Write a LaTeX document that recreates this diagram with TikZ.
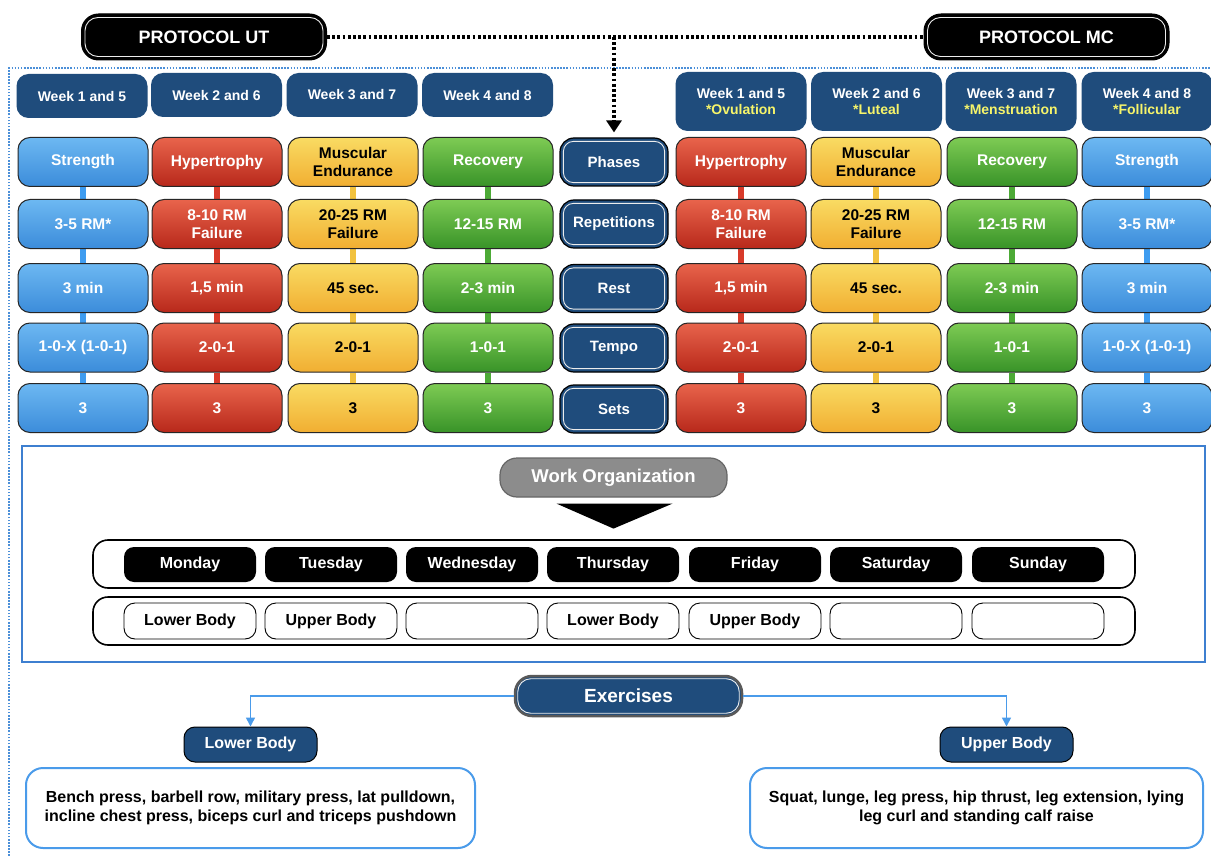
\documentclass[tikz,border=0pt]{standalone}
\usepackage{fontspec}
\setmainfont{Liberation Sans}
\usetikzlibrary{arrows.meta,calc}
\pgfdeclarelayer{bg}
\pgfsetlayers{bg,main}

\definecolor{navy}{HTML}{1F4C7C}
\definecolor{bluetop}{HTML}{6DB8F2}
\definecolor{bluebot}{HTML}{3B8CDA}
\definecolor{blueline}{HTML}{3E9CF0}
\definecolor{redtop}{HTML}{E8644C}
\definecolor{redbot}{HTML}{B8281A}
\definecolor{redline}{HTML}{D83A2A}
\definecolor{yeltop}{HTML}{F9DB62}
\definecolor{yelbot}{HTML}{F1AE32}
\definecolor{yelline}{HTML}{F2C23E}
\definecolor{grntop}{HTML}{7ECB54}
\definecolor{grnbot}{HTML}{389328}
\definecolor{grnline}{HTML}{4CAA36}
\definecolor{phaseyellow}{HTML}{F6F46A}
\definecolor{frameblue}{HTML}{3D7FD0}
\definecolor{linkblue}{HTML}{4A9BEA}
\definecolor{dotblue}{HTML}{4B8FD8}
\definecolor{orggray}{HTML}{8C8C8C}

\tikzset{
  cell/.style={draw=black!85, line width=1pt, rounded corners=12pt,
    minimum width=130pt, minimum height=49pt, inner sep=0pt, align=center,
    text=white, font=\bfseries\fontsize{15.5}{18.5}\selectfont},
  bluecell/.style={cell, top color=bluetop, bottom color=bluebot},
  redcell/.style={cell, top color=redtop, bottom color=redbot},
  yelcell/.style={cell, top color=yeltop, bottom color=yelbot, text=black},
  grncell/.style={cell, top color=grntop, bottom color=grnbot},
  weekbox/.style={fill=navy, rounded corners=12pt, minimum width=131pt,
    minimum height=44pt, inner sep=0pt, align=center, text=white,
    font=\bfseries\fontsize{14}{16.5}\selectfont},
  weekmc/.style={weekbox, minimum height=59pt},
  rowlabel/.style={fill=navy, draw=black, line width=1.2pt, rounded corners=14pt,
    minimum width=108pt, minimum height=48pt, inner sep=0pt, text=white,
    font=\bfseries\fontsize{15}{18}\selectfont},
  protocol/.style={fill=black, draw=black, line width=1pt, rounded corners=17pt,
    minimum width=245pt, minimum height=46pt, inner sep=0pt, text=white,
    font=\bfseries\fontsize{18}{20}\selectfont},
  inset/.style={white!85!gray, line width=0.9pt},
  dotline/.style={black, line width=3.2pt, dash pattern=on 2.8pt off 2.4pt},
  colbar/.style={line width=6pt},
  frame/.style={draw=black, line width=1.6pt, rounded corners=15pt,
    minimum width=1042pt, minimum height=48pt, inner sep=0pt},
  daybox/.style={fill=black, rounded corners=10pt, minimum width=132pt,
    minimum height=35pt, inner sep=0pt, text=white,
    font=\bfseries\fontsize{16}{18}\selectfont},
  bodybox/.style={fill=white, draw=black, line width=0.9pt, rounded corners=11pt,
    minimum width=132pt, minimum height=36pt, inner sep=0pt,
    font=\bfseries\fontsize{16}{18}\selectfont},
  orgpill/.style={fill=orggray, draw=black!60, line width=1.2pt, rounded corners=17pt,
    minimum width=227pt, minimum height=39pt, inner sep=0pt, text=white,
    font=\bfseries\fontsize{18.5}{20}\selectfont},
  expill/.style={fill=navy, draw=black!65, line width=2.5pt, rounded corners=17pt,
    minimum width=227pt, minimum height=40pt, inner sep=0pt, text=white,
    font=\bfseries\fontsize{19}{21}\selectfont},
  bodylabel/.style={fill=navy, draw=black, line width=1pt, rounded corners=11pt,
    minimum width=133pt, minimum height=35pt, inner sep=0pt, text=white,
    font=\bfseries\fontsize{16}{18}\selectfont},
  listbox/.style={draw=linkblue, line width=2pt, rounded corners=17pt,
    minimum height=80pt, inner sep=0pt, align=center,
    font=\bfseries\fontsize{16}{19.5}\selectfont},
  link/.style={linkblue, line width=1.6pt, -{Triangle[width=9pt,length=9pt]}}
}

% one column of five stacked cells: name, x, style, five texts
\newcommand\drawcolumn[8]{%
  \node[#3] (#1r1) at (#2,162) {#4};
  \node[#3] (#1r2) at (#2,224) {#5};
  \node[#3] (#1r3) at (#2,288) {#6};
  \node[#3] (#1r4) at (#2,347.5) {#7};
  \node[#3] (#1r5) at (#2,408) {#8};
}

\begin{document}
\begin{tikzpicture}[x=1pt,y=-1pt]
\useasboundingbox (0,0) rectangle (1211,856);
\begin{pgfonlayer}{bg}
\fill[white] (0,0) rectangle (1211,856);
\end{pgfonlayer}

% dotted outline of the training block
\draw[dotblue, line width=1.6pt, dash pattern=on 1.6pt off 1.5pt]
  (9,856) -- (9,68) -- (1211,68);

% protocol headers
\node[protocol] (ut) at (204,37) {PROTOCOL UT};
\node[protocol] (mc) at (1046.5,37) {PROTOCOL MC};

% week headers
\node[weekbox] (uw1) at (82,96) {Week 1 and 5};
\node[weekbox] (uw2) at (216.5,95) {Week 2 and 6};
\node[weekbox] (uw3) at (352,95) {Week 3 and 7};
\node[weekbox] (uw4) at (487.5,95) {Week 4 and 8};
\node[weekmc] (mw1) at (741,101.5) {Week 1 and 5\\\textcolor{phaseyellow}{*Ovulation}};
\node[weekmc] (mw2) at (876.5,101.5) {Week 2 and 6\\\textcolor{phaseyellow}{*Luteal}};
\node[weekmc] (mw3) at (1011,101.5) {Week 3 and 7\\\textcolor{phaseyellow}{*Menstruation}};
\node[weekmc] (mw4) at (1147,101.5) {Week 4 and 8\\\textcolor{phaseyellow}{*Follicular}};

% training variables
\node[rowlabel] (ph1) at (614,162) {Phases};
\node[rowlabel] (ph2) at (614,224) {Repetitions};
\node[rowlabel] (ph3) at (614,288.5) {Rest};
\node[rowlabel] (ph4) at (614,348) {Tempo};
\node[rowlabel] (ph5) at (614,409) {Sets};

\drawcolumn{c1}{83}{bluecell}{Strength}{3-5 RM*}{3 min}{1-0-X (1-0-1)}{3}
\drawcolumn{c2}{217}{redcell}{Hypertrophy}{8-10 RM\\Failure}{1,5 min}{2-0-1}{3}
\drawcolumn{c3}{353}{yelcell}{Muscular\\Endurance}{20-25 RM\\Failure}{45 sec.}{2-0-1}{3}
\drawcolumn{c4}{488}{grncell}{Recovery}{12-15 RM}{2-3 min}{1-0-1}{3}
\drawcolumn{c5}{741}{redcell}{Hypertrophy}{8-10 RM\\Failure}{1,5 min}{2-0-1}{3}
\drawcolumn{c6}{876}{yelcell}{Muscular\\Endurance}{20-25 RM\\Failure}{45 sec.}{2-0-1}{3}
\drawcolumn{c7}{1012}{grncell}{Recovery}{12-15 RM}{2-3 min}{1-0-1}{3}
\drawcolumn{c8}{1147}{bluecell}{Strength}{3-5 RM*}{3 min}{1-0-X (1-0-1)}{3}

% coloured bars joining the cells of each column
\begin{pgfonlayer}{bg}
\foreach \c/\col in {c1/blueline,c2/redline,c3/yelline,c4/grnline,
                     c5/redline,c6/yelline,c7/grnline,c8/blueline}
  \foreach \a/\b in {1/2,2/3,3/4,4/5}
    \draw[colbar,\col] (\c r\a) -- (\c r\b);
\end{pgfonlayer}

% dotted link between the protocols, pointing at the phases
\draw[dotline] (ut.east) -- (mc.west);
\draw[dotline, -{Triangle[width=15pt,length=12pt]}, shorten >=5pt]
  (ph1.north |- ut.east) -- (ph1.north);

% work organization panel
\node[draw=frameblue, line width=2pt, minimum width=1183pt, minimum height=216pt,
      inner sep=0pt] (org) at (613.5,554) {};
\node[orgpill] (wo) at (613.5,477.5) {Work Organization};
\fill[black] ($(wo.south)+(-57,6)$) -- ($(wo.south)+(59,6)$) -- ($(wo.south)+(0,31)$) -- cycle;

\node[frame] (dayrow) at (614,564) {};
\node[frame] (bodyrow) at (614,621) {};
\foreach \n/\x/\t/\b in {1/190/Monday/Lower Body, 2/331/Tuesday/Upper Body,
    3/472/Wednesday/, 4/613/Thursday/Lower Body, 5/755/Friday/Upper Body,
    6/896/Saturday/, 7/1038/Sunday/} {
  \node[daybox] (d\n) at (\x,564.5) {\t};
  \node[bodybox] (b\n) at (\x,621) {\b};
}

% exercises
\node[expill] (ex) at (628.5,696) {Exercises};
\node[bodylabel] (lb) at (250.5,744.5) {Lower Body};
\node[bodylabel] (ub) at (1006.5,744.5) {Upper Body};
\draw[link] (ex.west) -| (lb.north);
\draw[link] (ex.east) -| (ub.north);
\node[listbox, minimum width=449pt] (lt) at (250.5,808)
  {Bench press, barbell row, military press, lat pulldown,\\incline chest press, biceps curl and triceps pushdown};
\node[listbox, minimum width=453pt] (rt) at (976.5,808)
  {Squat, lunge, leg press, hip thrust, leg extension, lying\\leg curl and standing calf raise};

% inner white outlines of the framed labels
\foreach \n/\r in {ut/13,mc/13,ph1/10,ph2/10,ph3/10,ph4/10,ph5/10,ex/13}
  \draw[inset, rounded corners=\r pt] ($(\n.south west)+(4,-4)$) rectangle ($(\n.north east)+(-4,4)$);
\end{tikzpicture}
\end{document}
